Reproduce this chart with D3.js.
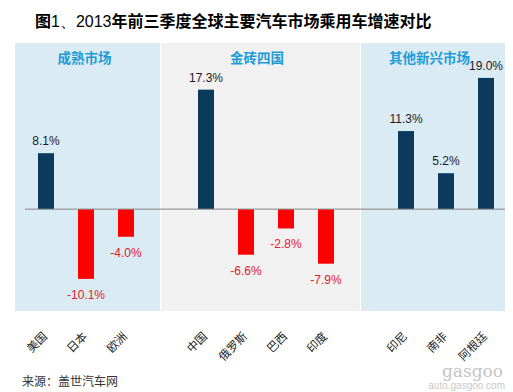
<!DOCTYPE html>
<html>
<head>
<meta charset="utf-8">
<script src="https://cdn.jsdelivr.net/npm/d3@7"></script>
<style>
  body { margin: 0; background: #fff; }
  svg { display: block; }
</style>
</head>
<body>
<div id="chart"></div>
<script>
// data
const groupNames = ['成熟市场', '金砖四国', '其他新兴市场']
const markets = [['美国', '日本', '欧洲'], ['中国', '俄罗斯', '巴西', '印度'], ['印尼', '南非', '阿根廷']]
const growth = [[8.1, -10.1, -4.0], [17.3, -6.6, -2.8, -7.9], [11.3, 5.2, 19.0]]

const width = 513, height = 392
const cjk = '"Noto Sans CJK SC", "Noto Sans", sans-serif'
const latin = '"Liberation Sans", Arial, sans-serif'

const svg = d3.select('#chart')
    .append('svg')
    .attr('width', width)
    .attr('height', height)

// flatten into slots, with an empty slot between groups
let slots = []
markets.forEach((list, g) => {
    if (g > 0) slots.push({key: 'gap' + g, gap: true})
    list.forEach((m, i) => slots.push({key: m, name: m, value: growth[g][i], group: g}))
})
const bars = slots.filter(d => !d.gap)

const x = d3.scaleBand()
    .domain(slots.map(d => d.key))
    .range([26, 506])
    .paddingInner(0.6)
    .paddingOuter(0.3)

const y = d3.scaleLinear()
    .domain([-12, 20])
    .range([292, 71])

const mid = k => x(k) + x.bandwidth() / 2

// panel backgrounds
const edges = [15, mid('gap1') - 6, mid('gap2') - 6, 505]
const panels = groupNames.map((name, g) => ({name, x0: edges[g], x1: edges[g + 1], g}))

svg.selectAll('.panel')
    .data(panels)
    .join('rect')
    .attr('class', 'panel')
    .attr('x', d => d.x0 + (d.g > 0 ? 1 : 0))
    .attr('y', 43)
    .attr('width', d => d.x1 - d.x0 - (d.g > 0 ? 1 : 0))
    .attr('height', 268)
    .attr('fill', d => d.g === 1 ? '#f1f1f1' : '#daebf3')

svg.selectAll('.panel-title')
    .data(panels)
    .join('text')
    .attr('class', 'panel-title')
    .attr('x', d => (d.x0 + d.x1) / 2 - 3)
    .attr('y', 63)
    .attr('text-anchor', 'middle')
    .attr('font-family', cjk)
    .attr('font-weight', 'bold')
    .attr('font-size', 13.5)
    .attr('fill', '#1f9bd6')
    .text(d => d.name)

// bars
svg.selectAll('.bar')
    .data(bars)
    .join('rect')
    .attr('class', 'bar')
    .attr('x', d => x(d.key))
    .attr('width', x.bandwidth())
    .attr('y', d => y(Math.max(0, d.value)))
    .attr('height', d => Math.abs(y(d.value) - y(0)))
    .attr('fill', d => d.value >= 0 ? '#0b3a5d' : '#ff0000')

// zero line
svg.append('line')
    .attr('x1', 25)
    .attr('x2', 505)
    .attr('y1', y(0))
    .attr('y2', y(0))
    .attr('stroke', '#858585')
    .attr('stroke-width', 1)

// value labels
svg.selectAll('.value')
    .data(bars)
    .join('text')
    .attr('class', 'value')
    .attr('x', d => mid(d.key))
    .attr('y', d => d.value >= 0 ? y(d.value) - 8 : y(d.value) + 20)
    .attr('text-anchor', 'middle')
    .attr('font-family', latin)
    .attr('font-size', 12)
    .attr('fill', d => d.value >= 0 ? '#1a1a2e' : '#e3202c')
    .text(d => d.value.toFixed(1) + '%')

// category labels, rotated
svg.selectAll('.cat')
    .data(bars)
    .join('text')
    .attr('class', 'cat')
    .attr('transform', d => `translate(${mid(d.key) + 2}, 337) rotate(-45)`)
    .attr('text-anchor', 'end')
    .attr('font-family', cjk)
    .attr('font-size', 11.5)
    .attr('fill', '#222')
    .text(d => d.name)

// title
const title = svg.append('text')
    .attr('x', 35)
    .attr('y', 27)
    .attr('font-family', cjk)
    .attr('font-size', 16)
    .attr('fill', '#000')
title.append('tspan').attr('font-weight', 'bold').text('图')
title.append('tspan').attr('font-family', latin).text('1、2013')
title.append('tspan').attr('font-weight', 'bold').text('年前三季度全球主要汽车市场乘用车增速对比')

// source
svg.append('text')
    .attr('x', 22)
    .attr('y', 386)
    .attr('font-family', cjk)
    .attr('font-size', 12)
    .attr('fill', '#333')
    .text('来源：盖世汽车网')

// watermark
svg.append('text')
    .attr('x', 503)
    .attr('y', 377)
    .attr('text-anchor', 'end')
    .attr('font-family', '"DejaVu Serif", serif')
    .attr('font-size', 17)
    .attr('fill', '#c4c4c4')
    .text('gasgoo')
svg.append('text')
    .attr('x', 505)
    .attr('y', 389)
    .attr('text-anchor', 'end')
    .attr('font-family', latin)
    .attr('font-size', 10)
    .attr('fill', '#c8c8c8')
    .text('auto.gasgoo.com')
</script>
</body>
</html>
